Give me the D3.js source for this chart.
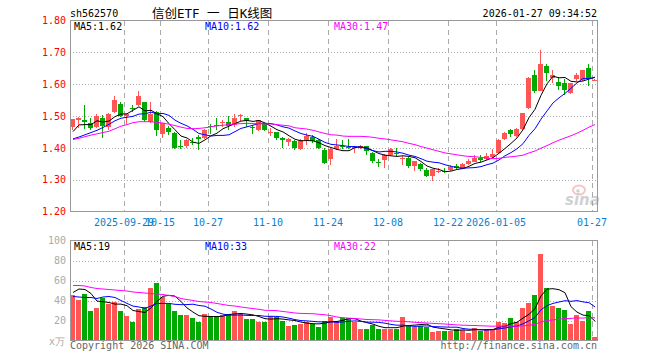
<!DOCTYPE html>
<html>
<head>
<meta charset="utf-8">
<script src="https://cdn.jsdelivr.net/npm/d3@7"></script>
<style>
html,body{margin:0;padding:0;background:#fff;}
svg{display:block;}
text{font-family:"DejaVu Sans Mono","Liberation Mono",monospace;}
</style>
</head>
<body>
<svg id="chart" width="660" height="360"></svg>
<script>
// ---------- DATA ----------
const dates = [
"2025-09-16","2025-09-17","2025-09-18","2025-09-19","2025-09-22","2025-09-23","2025-09-24","2025-09-25","2025-09-26","2025-09-29","2025-09-30",
"2025-10-09","2025-10-10","2025-10-13","2025-10-14","2025-10-15","2025-10-16","2025-10-17","2025-10-20","2025-10-21","2025-10-22","2025-10-23","2025-10-24","2025-10-27","2025-10-28","2025-10-29","2025-10-30","2025-10-31",
"2025-11-03","2025-11-04","2025-11-05","2025-11-06","2025-11-07","2025-11-10","2025-11-11","2025-11-12","2025-11-13","2025-11-14","2025-11-17","2025-11-18","2025-11-19","2025-11-20","2025-11-21","2025-11-24","2025-11-25","2025-11-26","2025-11-27","2025-11-28",
"2025-12-01","2025-12-02","2025-12-03","2025-12-04","2025-12-05","2025-12-08","2025-12-09","2025-12-10","2025-12-11","2025-12-12","2025-12-15","2025-12-16","2025-12-17","2025-12-18","2025-12-19","2025-12-22","2025-12-23","2025-12-24","2025-12-25","2025-12-26","2025-12-29","2025-12-30","2025-12-31",
"2026-01-05","2026-01-06","2026-01-07","2026-01-08","2026-01-09","2026-01-12","2026-01-13","2026-01-14","2026-01-15","2026-01-16","2026-01-19","2026-01-20","2026-01-21","2026-01-22","2026-01-23","2026-01-26","2026-01-27"
];
const open = [
1.465,1.488,1.489,1.477,1.465,1.495,1.465,1.511,1.538,1.499,
1.526,1.535,1.545,1.480,1.511,1.443,1.461,1.447,1.407,1.405,
1.418,1.435,1.430,1.470,1.473,1.478,1.480,1.473,1.499,1.495,
1.466,1.457,1.474,1.447,1.449,1.430,1.418,1.423,1.397,1.424,
1.433,1.426,1.393,1.364,1.395,1.405,1.403,1.400,1.399,1.407,
1.384,1.357,1.362,1.376,1.384,1.364,1.369,1.343,1.348,1.330,
1.312,1.324,1.327,1.330,1.343,1.335,1.348,1.356,1.369,1.366,
1.372,1.384,1.428,1.455,1.436,1.459,1.525,1.629,1.577,1.657,
1.619,1.606,1.603,1.572,1.616,1.614,1.650,1.611
];
const high = [
1.491,1.497,1.535,1.494,1.507,1.503,1.509,1.563,1.545,1.507,
1.534,1.579,1.545,1.543,1.516,1.478,1.470,1.449,1.426,1.428,
1.432,1.441,1.459,1.474,1.495,1.489,1.499,1.507,1.507,1.495,
1.472,1.489,1.478,1.463,1.451,1.434,1.431,1.425,1.428,1.447,
1.439,1.428,1.400,1.400,1.428,1.426,1.428,1.407,1.410,1.407,
1.386,1.364,1.382,1.400,1.400,1.374,1.372,1.359,1.351,1.338,
1.335,1.338,1.338,1.345,1.348,1.351,1.364,1.379,1.376,1.384,
1.395,1.428,1.449,1.459,1.463,1.509,1.621,1.643,1.707,1.663,
1.645,1.622,1.616,1.605,1.634,1.645,1.663,1.616
];
const low = [
1.457,1.463,1.459,1.455,1.461,1.430,1.455,1.509,1.497,1.476,
1.511,1.532,1.480,1.478,1.436,1.430,1.441,1.395,1.395,1.399,
1.409,1.393,1.428,1.445,1.457,1.466,1.455,1.466,1.483,1.466,
1.442,1.454,1.452,1.436,1.426,1.399,1.405,1.393,1.393,1.410,
1.416,1.395,1.348,1.345,1.393,1.397,1.397,1.384,1.395,1.379,
1.351,1.339,1.337,1.374,1.374,1.347,1.337,1.327,1.327,1.309,
1.296,1.322,1.322,1.327,1.332,1.332,1.346,1.355,1.355,1.362,
1.369,1.382,1.426,1.434,1.434,1.452,1.523,1.572,1.577,1.611,
1.603,1.582,1.567,1.569,1.611,1.611,1.595,1.610
];
const close = [
1.491,1.493,1.480,1.461,1.500,1.470,1.507,1.551,1.500,1.507,
1.523,1.563,1.489,1.507,1.455,1.478,1.449,1.398,1.405,1.426,
1.414,1.427,1.455,1.466,1.470,1.480,1.470,1.495,1.503,1.484,
1.464,1.486,1.455,1.451,1.430,1.426,1.429,1.398,1.426,1.436,
1.421,1.399,1.353,1.395,1.405,1.403,1.401,1.402,1.405,1.389,
1.359,1.355,1.376,1.395,1.382,1.368,1.343,1.359,1.332,1.312,
1.332,1.326,1.324,1.341,1.338,1.348,1.359,1.369,1.362,1.374,
1.382,1.426,1.447,1.442,1.459,1.509,1.619,1.577,1.663,1.636,
1.629,1.593,1.582,1.603,1.629,1.645,1.619,1.614
];
const volume = [
46,41,47,30,33,43,37,39,30,25,
19,32,34,53,58,44,37,30,26,26,
23,19,27,25,25,26,27,30,27,22,
22,19,19,25,24,20,15,16,17,19,
17,14,20,24,20,23,23,19,12,12,
16,12,12,12,12,24,15,14,15,14,
9,10,10,10,12,11,8,13,10,12,
12,19,18,23,19,33,38,46,87,53,
35,33,31,17,26,20,30,4
];
const ma5 = [
1.451,1.472,1.473,1.473,1.485,1.481,1.484,1.498,1.506,1.507,
1.518,1.529,1.516,1.518,1.507,1.498,1.476,1.457,1.437,1.431,
1.418,1.414,1.425,1.438,1.446,1.460,1.468,1.476,1.484,1.486,
1.483,1.486,1.478,1.468,1.457,1.450,1.438,1.427,1.422,1.423,
1.422,1.416,1.407,1.401,1.395,1.391,1.391,1.401,1.403,1.400,
1.391,1.382,1.377,1.375,1.373,1.375,1.373,1.369,1.357,1.343,
1.336,1.332,1.325,1.327,1.332,1.335,1.342,1.351,1.355,1.362,
1.369,1.383,1.398,1.414,1.431,1.457,1.495,1.521,1.565,1.601,
1.625,1.620,1.621,1.609,1.607,1.610,1.616,1.622
];
const ma10 = [
1.428,1.434,1.441,1.448,1.455,1.464,1.474,1.485,1.493,1.496,
1.499,1.506,1.507,1.512,1.507,1.508,1.502,1.487,1.477,1.469,
1.458,1.445,1.441,1.437,1.439,1.439,1.441,1.451,1.461,1.466,
1.471,1.477,1.477,1.476,1.472,1.466,1.462,1.453,1.445,1.440,
1.436,1.427,1.417,1.411,1.409,1.407,1.404,1.404,1.402,1.397,
1.391,1.387,1.389,1.389,1.387,1.383,1.377,1.373,1.366,1.358,
1.355,1.353,1.347,1.342,1.338,1.336,1.337,1.338,1.341,1.347,
1.352,1.362,1.375,1.385,1.397,1.413,1.439,1.460,1.490,1.516,
1.541,1.557,1.571,1.587,1.604,1.618,1.618,1.621
];
const ma30 = [
1.426,1.430,1.435,1.440,1.444,1.448,1.452,1.460,1.468,1.473,
1.479,1.482,1.482,1.482,1.480,1.478,1.474,1.470,1.465,1.461,
1.460,1.461,1.463,1.466,1.469,1.471,1.473,1.475,1.476,1.477,
1.476,1.476,1.475,1.475,1.473,1.471,1.469,1.463,1.461,1.459,
1.455,1.450,1.445,1.441,1.440,1.437,1.436,1.436,1.436,1.435,
1.433,1.430,1.428,1.425,1.422,1.419,1.414,1.410,1.404,1.399,
1.394,1.389,1.384,1.381,1.378,1.375,1.373,1.372,1.370,1.368,
1.366,1.367,1.370,1.372,1.374,1.377,1.384,1.390,1.399,1.407,
1.416,1.424,1.431,1.438,1.446,1.455,1.465,1.473
];
const vma5 = [
48,51.5,51,47,39.4,38.8,38.0,36.4,36.4,34.8,
30.0,29.0,28.0,32.6,39.2,44.2,45.2,44.4,39.0,32.6,
28.4,24.8,24.2,24.0,23.8,24.4,26.0,26.6,27.0,26.4,
25.6,24.0,21.8,21.4,21.8,21.4,20.6,20.0,18.4,17.4,
16.8,16.6,17.4,18.8,19.0,20.2,22.0,21.8,19.4,17.8,
16.4,14.2,12.8,12.8,12.8,14.4,15.0,15.4,16.0,16.4,
13.4,12.4,11.6,10.6,10.2,10.6,10.2,10.8,10.8,10.8,
11.0,13.2,14.2,16.8,18.2,22.4,26.2,31.8,44.6,51.4,
51.8,50.8,47.8,33.8,28.4,25.4,24.8,19.4
];
const vma10 = [
44,43.5,43,43,42,43.5,44,43,40,37.1,
34.4,33.5,32.2,34.5,37.0,37.1,37.1,36.2,35.8,35.9,
36.3,35.0,34.3,31.5,28.2,26.4,25.4,25.4,25.5,25.1,
25.0,25.0,24.2,24.2,24.1,23.5,22.3,20.9,19.9,19.6,
19.1,18.6,18.7,18.6,18.2,18.5,19.3,19.6,19.1,18.4,
18.3,18.1,17.3,16.1,15.3,15.4,14.6,14.1,14.4,14.6,
13.9,13.7,13.5,13.3,13.3,12.0,11.3,11.2,10.7,10.5,
10.8,11.7,12.5,13.8,14.5,16.7,19.7,23.0,30.7,34.8,
37.1,38.5,39.8,39.2,39.9,38.6,37.8,33.6
];
const vma30 = [
55,55,54.5,53,52,51.5,51,50.5,50,49.5,
48.5,48,47.5,47,46.5,46,45,44,42,41,
40,39,38.5,38,37,36,35,34.5,33.5,32.7,
31.9,31.2,30.2,30.1,29.8,29.0,28.3,27.5,27.1,26.9,
26.8,26.2,25.7,24.8,23.5,22.8,22.3,22.0,21.5,21.0,
20.8,20.6,20.1,19.6,19.2,19.1,18.7,18.2,17.8,17.5,
17.1,16.8,16.5,16.0,15.6,15.3,15.1,15.0,14.7,14.5,
14.3,14.5,14.4,14.4,14.4,14.7,15.2,16.1,18.6,20.0,
20.6,21.3,21.9,22.1,22.6,22.4,22.9,22.6
];
const priceTicks = [1.20,1.30,1.40,1.50,1.60,1.70,1.80];
const volTicks = [20,40,60,80,100];
const dateTicks = ["2025-09-29","2025-10-15","2025-10-27","2025-11-10","2025-11-24","2025-12-08","2025-12-22","2026-01-05","2026-01-27"];
const dateTickLabels = ["2025-09-29","10-15","10-27","11-10","11-24","12-08","12-22","2026-01-05","01-27"];
const priceLegend = ["MA5:1.62","MA10:1.62","MA30:1.47"];
const volLegend = ["MA5:19","MA10:33","MA30:22"];
const maColors = ["#000000","#0000ff","#ff00ff"];

// ---------- LAYOUT ----------
const L = 70, R = 598;
const upC = "#ff5555", downC = "#00aa00", gridC = "#aaaaaa", borderC = "#999999";

const svg = d3.select("#chart");
svg.append("rect").attr("width",660).attr("height",360).attr("fill","#fff");

const x = d3.scaleBand().domain(dates).range([L, R]).padding(0);
const bw = x.bandwidth();
const y = d3.scaleLinear().domain([1.2, 1.8]).range([211.5, 20.5]);
const yv = d3.scaleLinear().domain([0, 100]).range([340.5, 240.5]);

const idx = d3.range(dates.length);

// header
svg.append("text").attr("x",70).attr("y",17).attr("font-size",10).attr("fill","#000").text("sh562570");
svg.append("text").attr("x",152).attr("y",18).attr("font-size",12.5)
  .style("font-family","'DejaVu Sans Mono','Noto Sans CJK SC',monospace").attr("fill","#000").text("信创ETF 一 日K线图");
svg.append("text").attr("x",597).attr("y",17).attr("text-anchor","end").attr("font-size",10).attr("fill","#000").text("2026-01-27 09:34:52");

// ---------- grids ----------
function grid(g, yScale, ticks, y0, y1) {
  g.selectAll("line.h").data(ticks).join("line")
    .attr("x1",L).attr("x2",R).attr("y1",d=>Math.round(yScale(d))+0.5).attr("y2",d=>Math.round(yScale(d))+0.5)
    .attr("stroke",gridC).attr("stroke-dasharray","1,2").attr("shape-rendering","crispEdges");
  g.selectAll("line.v").data(dateTicks).join("line")
    .attr("x1",d=>x(d)+0.5).attr("x2",d=>x(d)+0.5).attr("y1",y0).attr("y2",y1)
    .attr("stroke",gridC).attr("stroke-dasharray","5,4").attr("shape-rendering","crispEdges");
}
const gMain = svg.append("g");
grid(gMain.append("g"), y, priceTicks.filter(t=>t>1.2 && t<1.8), 21, 211);
const gVol = svg.append("g");
grid(gVol.append("g"), yv, volTicks.filter(t=>t<100), 241, 340);

// ---------- candles ----------
const cg = svg.append("g").attr("shape-rendering","crispEdges");
idx.forEach(i => {
  const d = dates[i];
  const col = close[i] >= open[i] ? upC : downC;
  const cx = x(d) + 2.5;
  cg.append("line").attr("x1",cx).attr("x2",cx).attr("y1",y(high[i])).attr("y2",y(low[i]))
    .attr("stroke",col).attr("stroke-width",1);
  const top = y(Math.max(open[i], close[i])), bot = y(Math.min(open[i], close[i]));
  cg.append("rect").attr("x",x(d)).attr("y",top).attr("width",bw-1).attr("height",Math.max(1, bot-top))
    .attr("fill",col);
});

// ---------- volume bars ----------
const vg = svg.append("g").attr("shape-rendering","crispEdges");
vg.selectAll("rect").data(idx).join("rect")
  .attr("x",i=>x(dates[i])).attr("width",bw-1)
  .attr("y",i=>yv(volume[i])).attr("height",i=>yv(0)-yv(volume[i]))
  .attr("fill",i=> close[i] >= open[i] ? upC : downC);

// ---------- MA lines ----------
function maLine(arr, scale, color) {
  const line = d3.line().x((v,i)=>x(dates[i])+3).y(v=>scale(v));
  svg.append("path").datum(arr).attr("d",line).attr("fill","none")
    .attr("stroke",color).attr("stroke-width",1);
}
[ma5, ma10, ma30].forEach((a,j)=>maLine(a, y, maColors[j]));
[vma5, vma10, vma30].forEach((a,j)=>maLine(a, yv, maColors[j]));

// watermark
const wm = svg.append("g").attr("opacity",0.45);
wm.append("ellipse").attr("cx",579).attr("cy",190).attr("rx",6).attr("ry",4.5).attr("fill","none").attr("stroke","#f08080").attr("stroke-width",2);
wm.append("circle").attr("cx",578).attr("cy",191).attr("r",1.8).attr("fill","#999");
wm.append("text").attr("x",565).attr("y",205).attr("font-size",15).attr("font-weight","bold").attr("font-style","italic")
  .style("font-family","'DejaVu Sans',sans-serif").attr("fill","#999").text("sina");

// ---------- borders ----------
svg.append("rect").attr("x",L+0.5).attr("y",20.5).attr("width",R-L-1).attr("height",191)
  .attr("fill","none").attr("stroke",borderC).attr("shape-rendering","crispEdges");
svg.append("rect").attr("x",L+0.5).attr("y",240.5).attr("width",R-L-1).attr("height",100)
  .attr("fill","none").attr("stroke",borderC).attr("shape-rendering","crispEdges");

// ---------- axes ----------
const ay = svg.append("g").attr("transform",`translate(${L},0)`)
  .call(d3.axisLeft(y).tickValues(priceTicks).tickFormat(d3.format(".2f")).tickSize(0).tickPadding(4));
ay.select(".domain").remove();
ay.selectAll("text").attr("fill","#ff0000").attr("font-size",10).style("font-family","'DejaVu Sans Mono',monospace");

const av = svg.append("g").attr("transform",`translate(${L},0)`)
  .call(d3.axisLeft(yv).tickValues(volTicks).tickFormat(d3.format("d")).tickSize(0).tickPadding(4));
av.select(".domain").remove();
av.selectAll("text").attr("fill","#aaaaaa").attr("font-size",10).style("font-family","'DejaVu Sans Mono',monospace");

const ax = svg.append("g").attr("transform",`translate(${-bw/2},212)`)
  .call(d3.axisBottom(x).tickValues(dateTicks).tickFormat((d,i)=>dateTickLabels[i]).tickSize(0));
ax.select(".domain").remove();
ax.selectAll("text").attr("y",13.5).attr("dy",0).attr("fill","#0a7fd0").attr("font-size",10)
  .style("font-family","'DejaVu Sans Mono',monospace");

// ---------- legends ----------
const legX = [74, 205, 334];
priceLegend.forEach((t,j)=>svg.append("text").attr("x",legX[j]).attr("y",30).attr("font-size",10).attr("fill",maColors[j]).text(t));
volLegend.forEach((t,j)=>svg.append("text").attr("x",legX[j]).attr("y",250).attr("font-size",10).attr("fill",maColors[j]).text(t));

// footer
svg.append("text").attr("x",49).attr("y",345).attr("font-size",10).attr("fill","#aaaaaa").text("x万");
svg.append("text").attr("x",70).attr("y",349).attr("font-size",10).attr("fill","#666666").text("Copyright 2026 SINA.COM");
svg.append("text").attr("x",597).attr("y",349).attr("text-anchor","end").attr("font-size",10).attr("fill","#666666").text("http://finance.sina.com.cn");
</script>
</body>
</html>
